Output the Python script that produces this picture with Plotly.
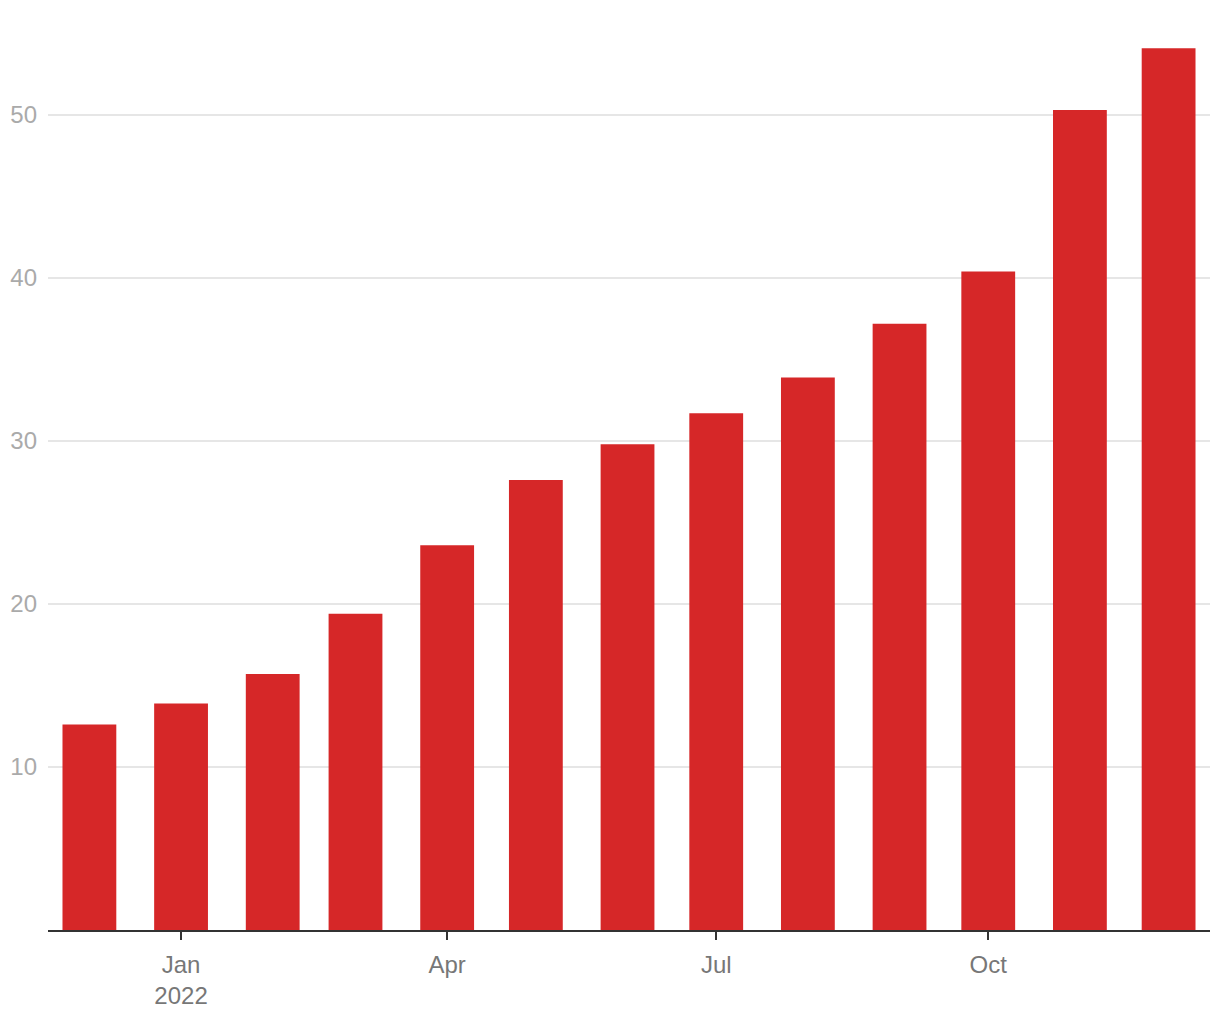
import plotly.graph_objects as go

months = ["2021-12-01", "2022-01-01", "2022-02-01", "2022-03-01", "2022-04-01",
          "2022-05-01", "2022-06-01", "2022-07-01", "2022-08-01", "2022-09-01",
          "2022-10-01", "2022-11-01", "2022-12-01"]
values = [12.6, 13.9, 15.7, 19.4, 23.6, 27.6, 29.8, 31.7, 33.9, 37.2, 40.4, 50.3, 54.1]

y_ticks = [10, 20, 30, 40, 50]
x_ticks = ["2022-01-01", "2022-04-01", "2022-07-01", "2022-10-01"]
x_labels = ["Jan<br>2022", "Apr", "Jul", "Oct"]

fig = go.Figure(go.Bar(x=months, y=values, marker=dict(color="#d62728", line=dict(width=0))))

fig.update_layout(
    width=1220, height=1020,
    margin=dict(l=40, r=18, t=10, b=98),
    paper_bgcolor="white", plot_bgcolor="white",
    bargap=0.35,
    showlegend=False,
    font=dict(family="Liberation Sans, Arial, sans-serif", size=24),
)
fig.update_xaxes(
    type="date",
    tickvals=x_ticks, ticktext=x_labels,
    showgrid=False, automargin=False,
    showline=True, linecolor="#333", linewidth=2,
    ticks="outside", ticklen=8, tickwidth=2, tickcolor="#333",
    ticklabelstandoff=4,
    tickfont=dict(color="#777", size=24),
)
fig.update_yaxes(
    range=[0, 55.95],
    tickvals=y_ticks, automargin=False,
    showgrid=True, gridcolor="#e6e6e6", gridwidth=2,
    zeroline=False, showline=False,
    ticks="", ticklabelstandoff=10,
    tickfont=dict(color="#aaa", size=24),
)

fig.write_html("out.html")
